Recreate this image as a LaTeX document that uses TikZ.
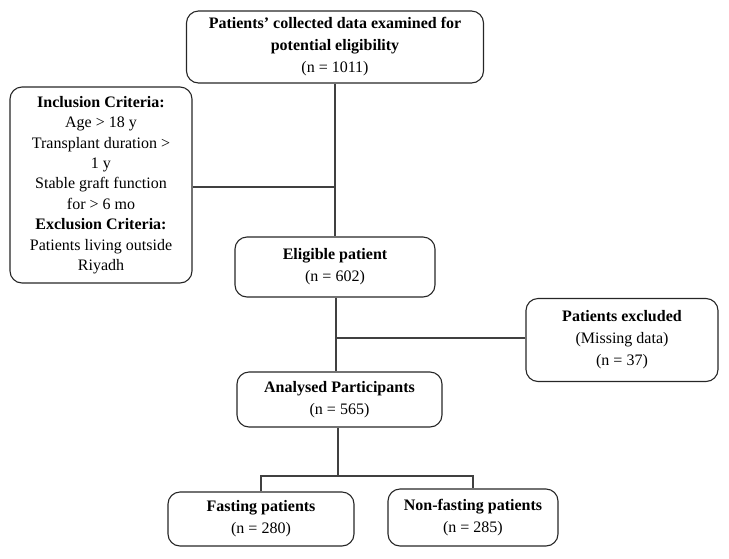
\documentclass[tikz,border=0pt]{standalone}
\usepackage{fontspec}
\setmainfont{Liberation Serif}
\begin{document}
\begin{tikzpicture}[x=1pt,y=-1pt,
  box/.style={draw=black!85, line width=1.1pt, rounded corners=12pt, align=center, inner sep=2pt,
    font=\fontsize{16}{22}\selectfont},
  link/.style={draw=black!75, line width=1.1pt}]
\useasboundingbox (0,0) rectangle (729,558);
\node[box, minimum width=297pt, minimum height=72pt] (top) at (335,47)
  {\textbf{Patients’ collected data examined for}\\\textbf{potential eligibility}\\(n = 1011)};
\node[box, minimum width=182pt, minimum height=196pt, font=\fontsize{16}{20.4}\selectfont] (crit) at (101,185)
  {\textbf{Inclusion Criteria:}\\Age > 18 y\\Transplant duration >\\1 y\\Stable graft function\\for > 6 mo\\\textbf{Exclusion Criteria:}\\Patients living outside\\Riyadh};
\node[box, minimum width=200pt, minimum height=60pt] (elig) at (335,267)
  {\textbf{Eligible patient}\\(n = 602)};
\node[box, minimum width=192pt, minimum height=83pt] (excl) at (622,340)
  {\textbf{Patients excluded}\\(Missing data)\\(n = 37)};
\node[box, minimum width=205pt, minimum height=55pt] (anal) at (339.5,399.5)
  {\textbf{Analysed Participants}\\(n = 565)};
\node[box, minimum width=186pt, minimum height=54pt] (fast) at (261,519)
  {\textbf{Fasting patients}\\(n = 280)};
\node[box, minimum width=170pt, minimum height=57pt] (nonfast) at (473,517.5)
  {\textbf{Non-fasting patients}\\(n = 285)};
\coordinate (j1) at (335,187);
\coordinate (j2) at (336,338);
\coordinate (j3) at (338,476);
\draw[link] (top.south) -- (elig.north);
\draw[link] (crit.east |- j1) -- (j1);
\draw[link] (elig.south -| j2) -- (j2 |- anal.north);
\draw[link] (excl.west |- j2) -- (j2);
\draw[link] (anal.south -| j3) -- (j3);
\draw[link] (fast.north) -- (fast.north |- j3) -- (nonfast.north |- j3) -- (nonfast.north);
\end{tikzpicture}
\end{document}
